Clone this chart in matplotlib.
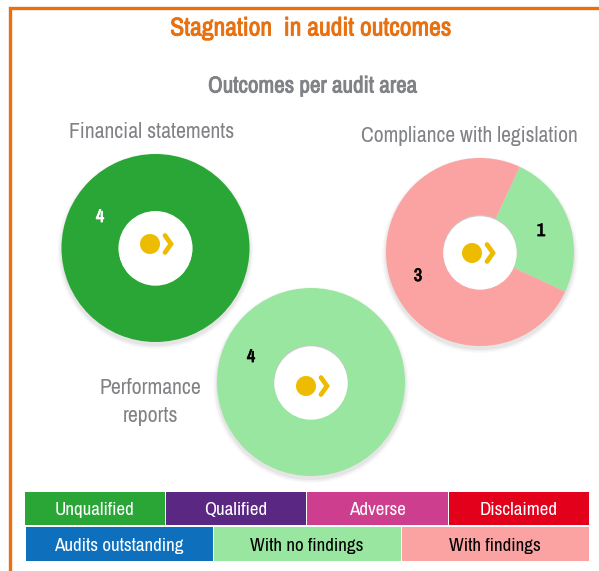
"""
Stagnation in audit outcomes - three donuts and a colour key
"""
import matplotlib
matplotlib.use('Agg')
import matplotlib.pyplot as plt
import matplotlib.patheffects as pe
from matplotlib.patches import Rectangle, Ellipse, Circle

plt.rcParams['font.family'] = ['Archivo Narrow', 'Liberation Sans', 'DejaVu Sans']

W, H = 599, 571

GREEN = '#2AA637'
LIGHT_GREEN = '#99E6A0'
PINK = '#FBA2A2'
ORANGE = '#E8700F'
GREY = '#808285'
YELLOW = '#EDBB00'

fin_values = [4]
fin_colors = [GREEN]
comp_values = [1, 3]
comp_colors = [LIGHT_GREEN, PINK]
perf_values = [4]
perf_colors = [LIGHT_GREEN]

key_row1 = ['Unqualified', 'Qualified', 'Adverse', 'Disclaimed']
key_row1_colors = ['#2AA637', '#5A2783', '#CE3E8E', '#E2001A']
key_row2 = ['Audits outstanding', 'With no findings', 'With findings']
key_row2_colors = ['#0E70BC', LIGHT_GREEN, PINK]
key_row2_text = ['white', 'black', 'black']

fig = plt.figure(figsize=(W / 100, H / 100), dpi=100)
fig.patch.set_facecolor('white')

# overlay in pixel coords, y going down like the picture
bg = fig.add_axes([0, 0, 1, 1], zorder=0)
bg.set_xlim(0, W)
bg.set_ylim(H, 0)
bg.axis('off')


def bold(txt, color, w=0.6):
    # the narrow face has no bold cut, so thicken it with a stroke
    txt.set_path_effects([pe.withStroke(linewidth=w, foreground=color)])


# orange frame, open past the right and bottom edges
bg.plot([9.5, 9.5, W + 5], [H + 5, 7.5, 7.5], color=ORANGE, lw=2.4,
        solid_joinstyle='miter', clip_on=False)

t = bg.text(310.5, 28, 'Stagnation  in audit outcomes', ha='center', va='center',
            fontsize=18.5, color=ORANGE)
bold(t, ORANGE)
t = bg.text(312.5, 86, 'Outcomes per audit area', ha='center', va='center',
            fontsize=16.6, color=GREY)
bold(t, GREY)
bg.text(151.5, 131.5, 'Financial statements', ha='center', va='center',
        fontsize=15.7, color=GREY)
bg.text(469, 135.5, 'Compliance with legislation', ha='center', va='center',
        fontsize=15.5, color=GREY)
bg.text(150, 402.5, 'Performance\nreports', ha='center', va='center',
        fontsize=15.7, color=GREY, linespacing=1.5)


def donut(cx, cy, values, colors, start, dot_x, dot_y, edge='#C9C9C9', r=94, hole=37):
    # soft shadow under the ring
    for grow, a in [(4, 0.03), (2.5, 0.05), (1, 0.07)]:
        bg.add_patch(Ellipse((cx, cy + 3), 2 * (r + grow), 2 * (r + grow),
                             fc='#555555', ec='none', alpha=a))
    ax = fig.add_axes([(cx - r) / W, 1 - (cy + r) / H, 2 * r / W, 2 * r / H], zorder=2)
    ax.pie(values, colors=colors, startangle=start, counterclock=False, radius=1.0,
           wedgeprops=dict(linewidth=0))
    ax.set_xlim(-1, 1)
    ax.set_ylim(-1, 1)
    ax.set_aspect('equal')
    ax.axis('off')
    # hole, grey top edge reads as an inner shadow
    s = 1 / r
    ax.add_patch(Circle((0, 0), hole * s, fc=edge, ec='none'))
    ax.add_patch(Circle((0, -1.0 * s), (hole - 0.3) * s, fc='white', ec='none'))
    # yellow dot and chevron in the hole
    ix = (dot_x - cx) * s
    iy = (cy - dot_y) * s
    ax.add_patch(Circle((ix, iy), 10 * s, fc=YELLOW, ec='none'))
    ax.plot([ix + 15 * s, ix + 21 * s, ix + 15 * s], [iy + 8.5 * s, iy, iy - 8.5 * s],
            color=YELLOW, lw=3.4, solid_capstyle='round', solid_joinstyle='miter')


donut(155.5, 248, fin_values, fin_colors, 90, 150, 244, edge='white')
donut(480, 252, comp_values, comp_colors, 65, 472, 253)
donut(311, 382, perf_values, perf_colors, 90, 306, 386)

# value labels sit on top of the donuts
top = fig.add_axes([0, 0, 1, 1], zorder=3)
top.set_xlim(0, W)
top.set_ylim(H, 0)
top.axis('off')
top.patch.set_alpha(0)

t = top.text(100, 217, str(fin_values[0]), ha='center', va='center', fontsize=13, color='white')
bold(t, 'white')
t = top.text(541, 231, str(comp_values[0]), ha='center', va='center', fontsize=13, color='black')
bold(t, 'black')
t = top.text(418, 276, str(comp_values[1]), ha='center', va='center', fontsize=13, color='black')
bold(t, 'black')
t = top.text(251, 357, str(perf_values[0]), ha='center', va='center', fontsize=13, color='black')
bold(t, 'black')

# colour key
x = 25
row_w = 141.2
for label, c in zip(key_row1, key_row1_colors):
    top.add_patch(Rectangle((x, 492), row_w - 1, 32.5, fc=c, ec='none'))
    top.text(x + row_w / 2 - 1, 510, label, ha='center', va='center', fontsize=13.7, color='white')
    x += row_w

x = 26
row_w = 188
for label, c, tc in zip(key_row2, key_row2_colors, key_row2_text):
    top.add_patch(Rectangle((x, 527), row_w - 1, 34, fc=c, ec='none'))
    top.text(x + row_w / 2 - 1, 545.5, label, ha='center', va='center', fontsize=13.7, color=tc)
    x += row_w

plt.savefig('out.png', dpi=100, facecolor='white')
plt.close()
